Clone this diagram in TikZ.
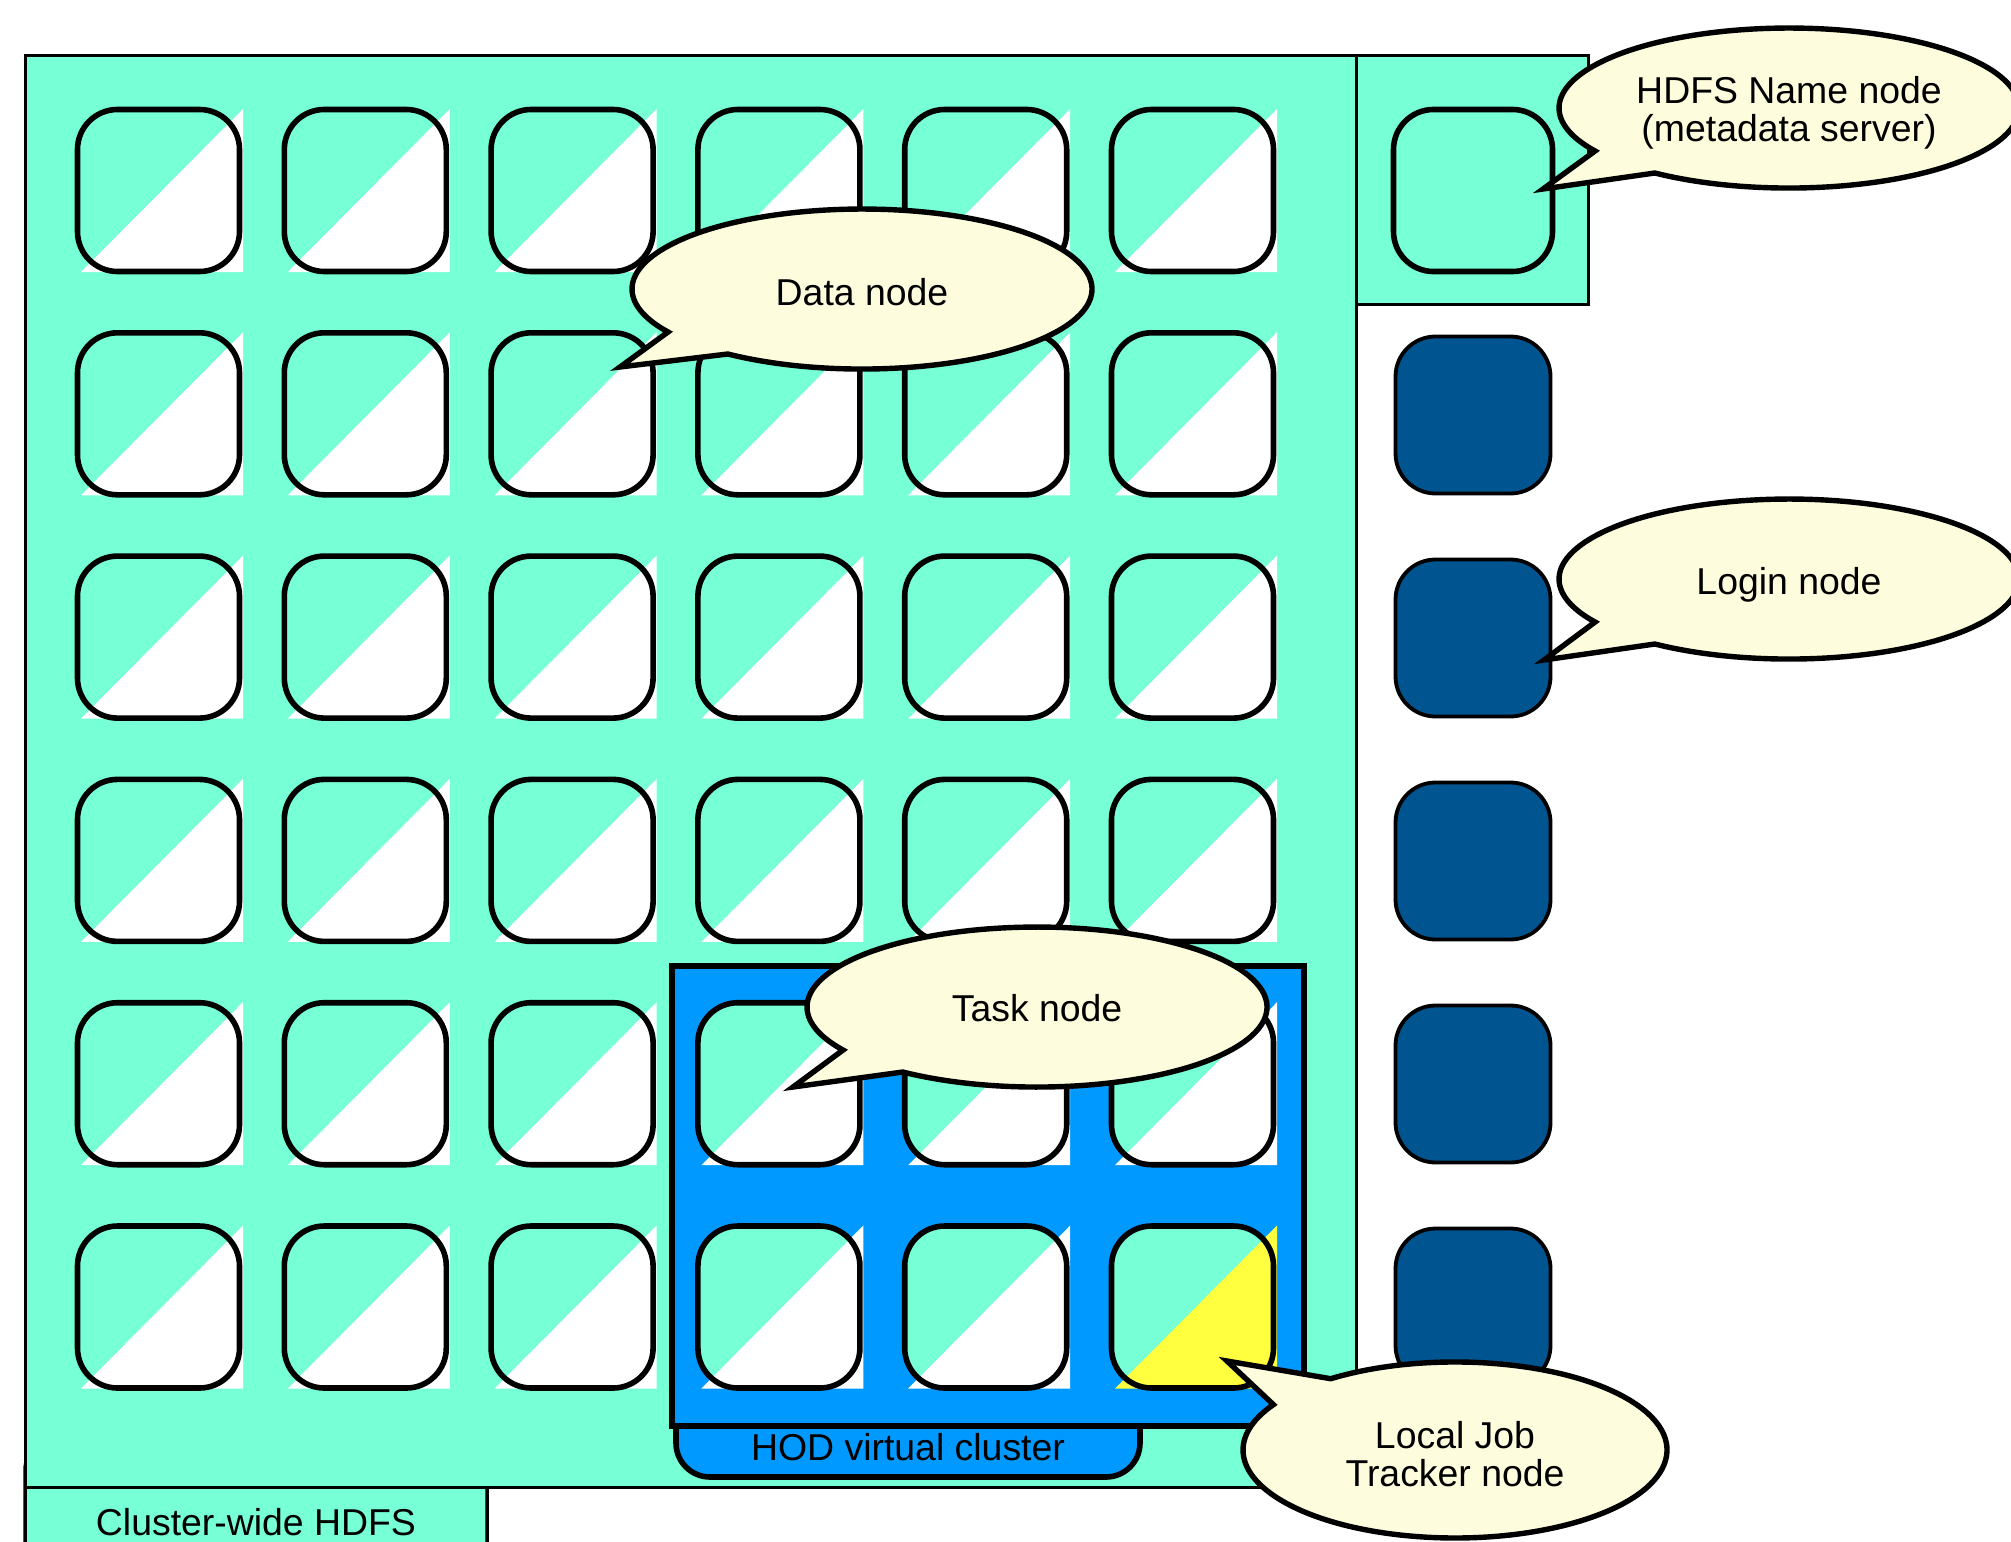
\documentclass[tikz,border=0pt]{standalone}
\usepackage{fontspec}
\setmainfont{Liberation Sans}
\definecolor{aqua}{HTML}{77FFD6}
\definecolor{hodblue}{HTML}{0099FF}
\definecolor{dbox}{HTML}{00548F}
\definecolor{callfill}{HTML}{FDFCDD}
\definecolor{yel}{HTML}{FFFF40}
\begin{document}
\begin{tikzpicture}[x=0.5pt,y=-0.5pt,
  txt/.style={font=\fontsize{18.7}{19}\selectfont, inner sep=0pt, align=center},
  databox/.style={draw=black, line width=2.8pt, rounded corners=20pt, minimum width=81pt, minimum height=81pt, inner sep=0pt, outer sep=0pt},
  darkbox/.style={draw=black, fill=dbox, line width=1.9pt, rounded corners=20pt, minimum width=77.5pt, minimum height=78.5pt, inner sep=0pt, outer sep=0pt},
  callout/.style={draw=black, fill=callfill, line width=2.7pt, line join=miter, miter limit=10},
  thinframe/.style={draw=black, fill=aqua, line width=1.5pt}
]
\clip (0,0) rectangle (2011,1541);
\fill[white] (0,0) rectangle (2011,1541);
% Cluster-wide HDFS tab and main area
\draw[fill=aqua, line width=1.75pt, rounded corners=15pt] (25,1440) rectangle (487,1575);
\draw[thinframe] (25,56) rectangle (1356,1487);
\node[txt, anchor=base] (hdfslabel) at (256,1535) {Cluster-wide HDFS};
% Name node panel
\draw[thinframe] (1356,56) rectangle (1588,304);
\node[databox, fill=aqua, minimum width=79.5pt] (namebox) at (1473,190.5) {};
% login / other dark nodes
\foreach \yy [count=\i] in {415,638,861,1084,1307}
  \node[darkbox] (dark\i) at (1473,\yy) {};
% HOD virtual cluster
\draw[fill=hodblue, line width=2.8pt, rounded corners=17pt] (676,1380) rectangle (1140,1477);
\draw[fill=hodblue, line width=3pt] (672,966) rectangle (1304,1426);
\node[txt, anchor=base] (hodlabel) at (908,1460) {HOD virtual cluster};
% data nodes
\foreach \r in {0,...,5}{
  \foreach \c in {0,...,5}{
    \pgfmathsetmacro\bx{75+206.8*\c}
    \pgfmathsetmacro\by{107+223.3*\r}
    \ifnum\numexpr\r*10+\c\relax=55 \def\tc{yel}\else\def\tc{white}\fi
    \fill[aqua, rounded corners=20pt] (\bx+2.5,\by+2.5) rectangle (\bx+164.5,\by+164.5);
    \fill[\tc] (\bx+6,\by+165) -- (\bx+168,\by+2) -- (\bx+168,\by+165) -- cycle;
    \node[databox] (dn-\r-\c) at (\bx+83.5,\by+83.5) {};
  }
}
% callouts
\path[callout] (727.8,354.0) arc[start angle=-125.7, end angle=212.5, x radius=115pt, y radius=40pt] -- (620,367) -- cycle;
\node[txt, anchor=base] (datanode) at (862,305) {Data node};

\path[callout] (1654.8,173.0) arc[start angle=-125.7, end angle=212.5, x radius=115pt, y radius=40pt] -- (1543,189) -- cycle;
\node[txt] (namenode) at (1789,113) {HDFS Name node\\(metadata server)};

\path[callout] (1654.8,644.0) arc[start angle=-125.7, end angle=212.5, x radius=115pt, y radius=40pt] -- (1544,660) -- cycle;
\node[txt, anchor=base] (loginnode) at (1789,594) {Login node};

\path[callout] (902.8,1072.0) arc[start angle=-125.7, end angle=212.5, x radius=115pt, y radius=40pt] -- (793,1087) -- cycle;
\node[txt, anchor=base] (tasknode) at (1037,1021) {Task node};

\path[callout] (1330.7,1378.7) arc[start angle=-234.1, end angle=-571.06, x radius=106pt, y radius=44pt] -- (1227,1361) -- cycle;
\node[txt] (jobtracker) at (1455,1454) {Local Job\\Tracker node};
\end{tikzpicture}
\end{document}
